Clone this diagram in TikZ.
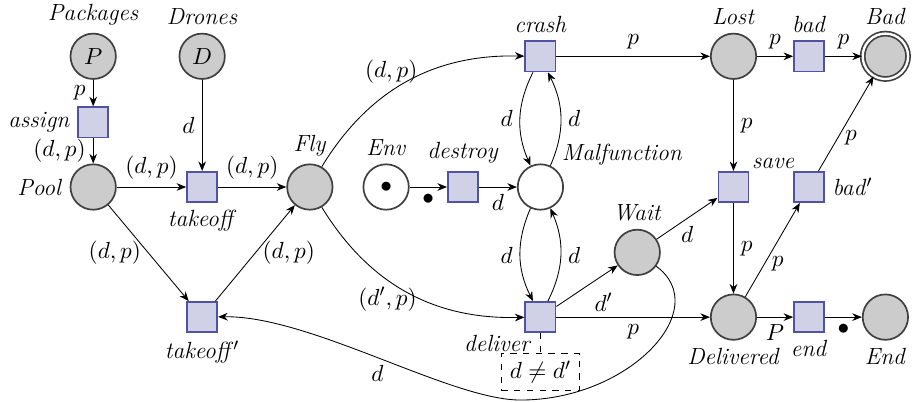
\documentclass[tikz,border=0pt]{standalone}
\usepackage{tikz}
\usetikzlibrary{arrows.meta,positioning}
\definecolor{plfill}{HTML}{CCCCCC}
\definecolor{pldraw}{HTML}{404040}
\definecolor{trfill}{HTML}{D0D1E6}
\definecolor{trdraw}{HTML}{5252A3}

\begin{document}
\begin{tikzpicture}[font=\fontsize{11}{13}\selectfont,
  pl/.style={circle,draw=pldraw,thick,fill=plfill,minimum size=0.75cm,inner sep=0pt},
  tr/.style={rectangle,draw=trdraw,thick,fill=trfill,minimum size=0.5cm,inner sep=0pt},
  arr/.style={-{Stealth[length=4.5pt,width=3.6pt]}}]
\useasboundingbox (0,0) rectangle (15.07,-6.63);
\node[pl,label=above:\textit{Packages}] (pk) at (1.54,-0.93) {$P$};
\node[pl,label=above:\textit{Drones}] (dr) at (3.34,-0.93) {$D$};
\node[tr,label=left:\textit{assign}] (assign) at (1.54,-2.02) {};
\node[pl,label=left:\textit{Pool}] (pool) at (1.54,-3.09) {};
\node[tr,label=below:\textit{takeoff}] (takeoff) at (3.34,-3.09) {};
\node[pl,label=above:\textit{Fly}] (fly) at (5.12,-3.09) {};
\node[tr,label=below:\textit{takeoff}$'$] (takeoffb) at (3.34,-5.24) {};
\node[pl,fill=white,label=above:\textit{Env}] (env) at (6.38,-3.09) {$\bullet$};
\node[tr,label=above:\textit{destroy}] (destroy) at (7.65,-3.09) {};
\node[pl,fill=white,label={[inner sep=2pt]above right:\textit{Malfunction}}] (malf) at (8.93,-3.09) {};
\node[tr,label=above:\textit{crash}] (crash) at (8.93,-0.93) {};
\node[tr,label={[anchor=north east,inner sep=1pt,xshift=-3pt]south:\textit{deliver}}] (deliver) at (8.93,-5.24) {};
\node[draw,dashed,inner xsep=4pt,inner ysep=3.5pt,below=0.33cm of deliver] (guard) {$d\neq d'$};
\node[pl,label=above:\textit{Wait}] (wait) at (10.53,-4.17) {};
\node[pl,label=above:\textit{Lost}] (lost) at (12.12,-0.93) {};
\node[tr,label=above:\textit{bad}] (bad) at (13.37,-0.93) {};
\node[pl,double=white,double distance=1.1pt,label=above:\textit{Bad}] (badpl) at (14.63,-0.93) {};
\node[tr,label={[inner sep=1pt]above right:\textit{save}}] (save) at (12.12,-3.09) {};
\node[tr,label=right:\textit{bad}$'$] (badb) at (13.37,-3.09) {};
\node[pl,label=below:\textit{Delivered}] (dlv) at (12.12,-5.24) {};
\node[tr,label=below:\textit{end}] (end) at (13.37,-5.24) {};
\node[pl,label=below:\textit{End}] (endpl) at (14.63,-5.24) {};

\draw[arr] (pk) -- node[left] {$p$} (assign);
\draw[arr] (assign) -- node[left] {$(d,p)$} (pool);
\draw[arr] (dr) -- node[left] {$d$} (takeoff);
\draw[arr] (pool) -- node[above] {$(d,p)$} (takeoff);
\draw[arr] (takeoff) -- node[above] {$(d,p)$} (fly);
\draw[arr] (pool) -- node[left] {$(d,p)$} (takeoffb);
\draw[arr] (takeoffb) -- node[right] {$(d,p)$} (fly);
\draw[arr] (fly) to[bend left=30] node[pos=0.42,above] {$(d,p)$} (crash);
\draw[arr] (fly) to[bend right=30] node[pos=0.4,below] {$(d',p)$} (deliver);
\draw[arr] (env) -- node[below] {$\bullet$} (destroy);
\draw[arr] (destroy) -- node[below] {$d$} (malf);
\draw[arr] (crash) to[bend right=25] node[left] {$d$} (malf);
\draw[arr] (malf) to[bend right=25] node[right] {$d$} (crash);
\draw[arr] (malf) to[bend right=25] node[left] {$d$} (deliver);
\draw[arr] (deliver) to[bend right=25] node[right] {$d$} (malf);
\draw[dashed] (deliver) -- (guard);
\draw[arr] (deliver) -- node[below right] {$d'$} (wait);
\draw[arr] (wait) -- node[below] {$d$} (save);
\draw[arr] (deliver) -- node[below] {$p$} (dlv);
\draw[arr] (crash) -- node[above] {$p$} (lost);
\draw[arr] (lost) -- node[above] {$p$} (bad);
\draw[arr] (bad) -- node[above] {$p$} (badpl);
\draw[arr] (lost) -- node[right] {$p$} (save);
\draw[arr] (save) -- node[right] {$p$} (dlv);
\draw[arr] (dlv) -- node[pos=0.35,right] {$p$} (badb);
\draw[arr] (badb) -- node[pos=0.35,right] {$p$} (badpl);
\draw[arr] (dlv) -- node[below] {$P$} (end);
\draw[arr] (end) -- node[below] {$\bullet$} (endpl);
\draw[arr] (wait) .. controls (11.8,-5.1) and (10.41,-6.61) .. (8.6,-6.61)
  .. controls (7.44,-6.61) and (5.12,-5.21) .. node[pos=0.5,below] {$d$} (takeoffb);
\end{tikzpicture}
\end{document}
